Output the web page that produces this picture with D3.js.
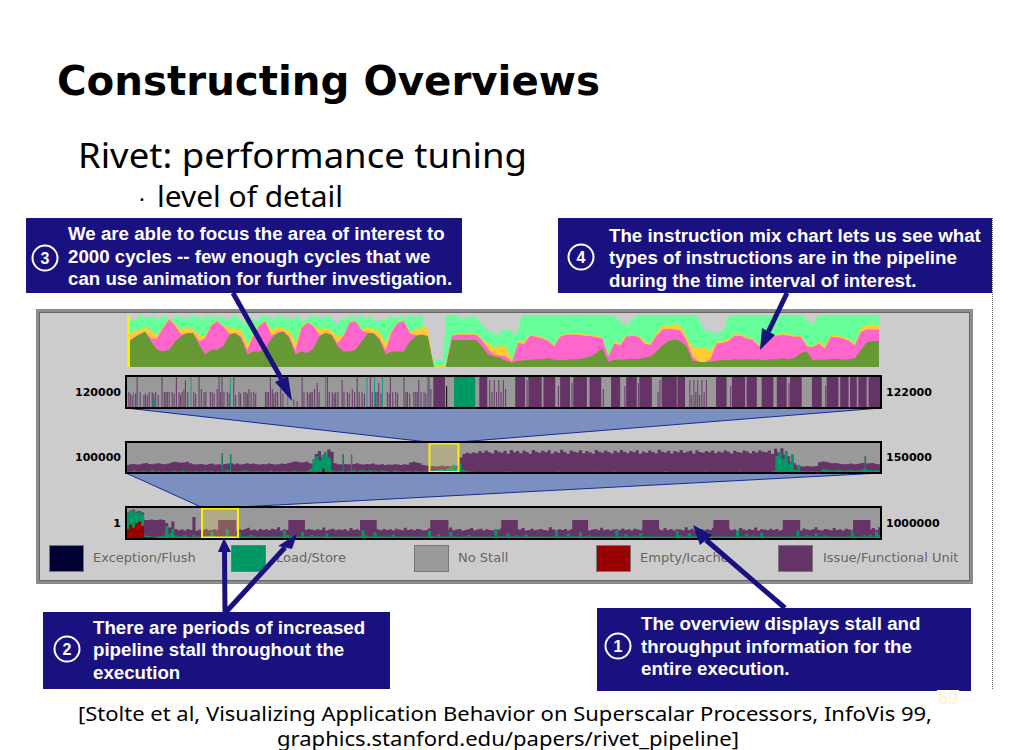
<!DOCTYPE html>
<html><head><meta charset="utf-8"><style>html,body{margin:0;background:#fff}svg{display:block}</style>
<script src="https://cdn.jsdelivr.net/npm/d3@7/dist/d3.min.js"></script></head><body><div id="c"></div>
<script>
// Instruction mix: cumulative band tops, percent
const mixOlive=[46,55,62,68,49,33,30,33,49,59,65,65,43,24,33,33,40,62,65,55,24,30,30,36,55,65,68,55,24,30,27,36,59,65,62,40,30,30,33,49,65,65,52,24,30,30,30,49,59,62,59,0,0,0,52,52,52,52,52,40,24,20,18,12,8,12,13,14,15,15,17,14,13,14,15,15,17,20,27,36,10,14,14,15,16,15,18,20,30,42,50,53,50,40,12,10,9,10,12,14,13,15,14,15,14,15,13,15,15,17,15,18,27,30,13,14,14,15,16,14,15,17,33,48,50,50];
const mixPink=[48,56,63,68,55,55,75,92,80,62,66,66,50,55,80,88,78,64,66,58,32,60,80,88,60,67,69,58,32,75,85,78,61,66,63,45,60,85,88,70,66,66,55,32,68,85,88,65,61,63,60,0,0,0,60,62,62,62,62,52,34,24,22,20,10,46,44,60,58,55,50,40,58,62,62,62,60,60,57,55,20,45,42,58,60,58,45,42,60,72,73,72,70,52,20,10,9,15,45,46,50,60,60,55,52,40,50,58,60,62,60,58,58,40,38,45,35,58,57,55,50,42,68,72,72,72];
const mixYellow=[60,68,72,76,70,60,77,94,82,72,75,73,62,58,82,90,80,75,74,70,44,62,82,90,72,76,74,70,46,77,87,80,72,75,70,58,62,87,90,72,76,73,68,46,70,87,90,68,72,76,74,1,2,2,62,63,64,64,64,54,45,38,40,40,12,50,50,62,60,58,52,43,60,64,64,64,63,62,60,57,22,48,46,60,62,60,50,44,65,80,80,82,80,58,38,38,38,30,50,50,55,63,63,57,55,43,55,61,62,64,63,61,60,43,40,50,40,62,60,58,53,45,76,80,82,80];
const mixMint=[82,90,93,88,97,99,94,96,95,98,94,92,96,99,94,91,93,97,98,95,91,94,96,99,97,92,94,98,95,99,92,96,98,94,90,93,97,99,94,88,84,91,95,92,88,93,97,99,96,94,92,97,99,95,93,96,90,94,98,95,86,91,96,99,94,98,95,92,97,99,92,86,84,90,95,91,96,98,92,96,99,94,91,97,94,86,88,92,90,95,98,93,96,94,99,91,97,99,95,98,100,97,10,13,14,15,14,13,12,98,99,100,99,98,94,93,95,96,97,96,92,84,78,72,68,66,63,62,70,71,70,71,64,60,80,99,100,99,99,100,100,100,100,100,100,100,100,100,100,100,100,100,100,100,100,100,100,99,100,99,100,100,100,100,100,100,98,95,92,85,84,80,86,92,100,100,100,100,100,100,100,100,100,100,100,100,100,100,100,100,100,100,100,100,99,96,86,76,68,66,68,66,64,68,72,90,100,100,100,100,100,100,100,100,100,100,100,100,100,100,100,100,100,100,100,100,100,100,100,100,100,98,95,88,82,86,98,100,100,100,100,100,100,100,100,100,100,100,100,100,100,100,100,100,100,100,100,100];

// Zoomed strip 120000-122000: offsets in cycles
const bars1=[[6,.5],[15,.4],[28,1],[46,.4],[55,.4],[68,.5],[77,.5],[94,1],[108,.5],[121,.5],[132,1],[139,.5],[147,.5],[156,.9],[178,.5],[192,1],[205,.5],[227,.5],[245,1],[253,1],[267,.5],[284,1],[298,.5],[311,.5],[324,.6],[337,.5],[368,.5],[381,1],[395,.5],[408,.6],[443,.25],[452,.2],[465,1],[479,.5],[492,.5],[505,.8],[532,1],[545,.5],[554,.5],[571,.9],[585,.5],[598,.6],[611,1],[624,.5],[646,1],[660,.5],[668,.8],[691,.5],[699,1],[713,.5],[735,1],[744,.5],[761,.5],[774,.9],[788,.5],[801,1],[962,.9],[968,.5],[974,.9],[980,.5],[986,.9],[992,.5],[998,.9],[1004,.6],[1408,.5],[1413,.9],[1492,.9],[1497,.4],[1503,.9],[1508,.5],[1513,.9],[1518,.4],[1524,.9],[1530,.5],[1536,.9],[1061,.9],[1144,.7],[1180,.8],[1263,.6],[1320,.7],[1356,.8],[1600,.7],[1755,.8],[1852,.7]];
const moreBars1=[[10,.45],[24,.45],[36,.5],[50,.45],[60,.5],[72,.45],[84,.4],[100,.5],[104,.5],[113,.5],[126,.45],[143,.4],[152,.6],[162,.5],[183,.45],[198,.6],[210,.5],[222,.5],[232,.45],[240,.6],[249,.5],[258,.5],[272,.45],[289,.4],[302,.45],[316,.5],[320,.45],[330,.5],[342,.45],[372,.5],[376,.5],[386,.6],[390,.45],[400,.5],[414,.45],[470,.5],[484,.45],[488,.5],[498,.6],[510,.5],[537,.5],[550,.45],[560,.5],[576,.5],[590,.45],[604,.5],[616,.5],[630,.45],[651,.5],[664,.5],[674,.45],[696,.45],[705,.5],[718,.45],[740,.5],[750,.45],[766,.5],[770,.5],[780,.5],[793,.45],[806,.6]];
const teal1=[[19,.5],[74,.3],[171,1],[275,1],[427,1],[527,1],[637,1],[657,1],[678,1],[798,1]];
const blocks1=[[814,845],[936,957],[1031,1057],[1066,1101],[1106,1137],[1150,1176],[1185,1221],[1228,1259],[1285,1309],[1325,1353],[1360,1393],[1419,1459],[1461,1481],[1563,1591],[1605,1640],[1644,1671],[1684,1715],[1724,1750],[1759,1790],[1817,1843],[1856,1887],[1892,1914],[1918,1936],[1940,1962],[1967,1998]];
const tealBlocks1=[[869,925]];
const blackMark1=[848,.7];

// Middle strip 100000-150000: height fractions per column
const purple2=[.24,.27,.28,.26,.27,.29,.31,.28,.27,.29,.30,.28,.27,.29,.33,.35,.34,.32,.33,.35,.30,.27,.26,.28,.27,.25,.28,.29,.26,.27,.25,.28,.29,.30,.27,.29,.26,.28,.30,.28,.29,.27,.26,.28,.27,.29,.28,.26,.27,.29,.28,.30,.33,.36,.35,.33,.34,.36,.30,.28,.62,.72,.50,.68,.78,.70,.30,.27,.26,.28,.27,.26,.28,.30,.27,.26,.28,.27,.29,.26,.25,.27,.24,.26,.25,.27,.26,.24,.27,.25,.33,.35,.33,.30,.24,.22,.20,.21,.19,.20,.22,.20,.21,.20,.19,.22,.50,.62,.66,.64,.67,.65,.72,.66,.74,.68,.64,.75,.70,.66,.73,.63,.76,.68,.72,.65,.74,.69,.63,.76,.70,.66,.73,.68,.75,.64,.71,.66,.77,.69,.63,.74,.70,.67,.75,.65,.72,.68,.63,.76,.70,.66,.74,.69,.64,.73,.67,.76,.70,.65,.72,.68,.75,.63,.71,.66,.74,.69,.65,.77,.70,.67,.73,.64,.72,.68,.76,.66,.70,.73,.64,.75,.69,.66,.72,.68,.74,.65,.71,.67,.75,.70,.64,.73,.69,.66,.74,.71,.65,.72,.67,.75,.70,.68,.74,.62,.80,.68,.82,.60,.55,.35,.30,.22,.20,.19,.21,.20,.19,.21,.34,.36,.35,.33,.30,.31,.29,.28,.27,.28,.29,.27,.28,.30,.31,.29,.30,.31,.28,.27];
const teal2=[.03,.02,.06,.03,.02,.04,.03,.02,.08,.03,.04,.02,.03,.02,.03,.05,.02,.03,.06,.02,.03,.02,.04,.02,.03,.05,.02,.04,.02,.03,.02,.03,.08,.05,.03,.02,.03,.04,.06,.03,.02,.03,.04,.02,.03,.02,.05,.02,.03,.02,.04,.03,.02,.03,.05,.02,.03,.02,.04,.12,.45,.55,.40,.60,.70,.50,.06,.03,.04,.05,.02,.03,.06,.08,.03,.05,.06,.03,.07,.04,.05,.03,.06,.04,.03,.02,.05,.04,.03,.02,.04,.03,.02,.05,.03,.02,.04,.03,.02,.06,.08,.10,.06,.12,.18,.25,.10,.30,.08,.04,.03,.02,0,0,0,0,.02,0,0,0,0,0,.02,.03,0,0,0,0,0,0,0,0,0,0,.02,0,0,0,0,.03,0,0,0,0,0,0,0,0,0,0,0,.02,0,0,0,0,0,.03,0,0,0,0,0,0,0,.02,0,0,0,0,0,0,0,.03,.02,0,0,0,0,0,0,0,0,0,0,0,.02,0,0,0,0,0,0,0,0,0,0,.02,0,0,0,0,0,0,0,0,0,0,.04,.55,.70,.45,.72,.30,.60,.08,.25,.03,.03,.02,.03,.02,.02,.03,.10,.08,.06,.05,.06,.08,.05,.04,.05,.06,.04,.05,.06,.12,.08,.06,.05,.06,.05];
const red2=[[113000,.12]];
const spikes2=[106335,106885,114345,114895,148920];
const spikeHeights2=[.65,.62,.62,.6,.55];

// Overview strip 1-1000000
const purple3=[.85,.92,.95,.88,.90,.85,.60,.60,.62,.60,.60,.62,.60,.50,.35,.55,.30,.26,.28,.25,.30,.27,.70,.24,.28,.26,.30,.26,.27,.29,.25,.33,.28,.26,.27,.31,.25,.29,.27,.30,.34,.26,.28,.25,.30,.27,.29,.26,.31,.28,.36,.25,.29,.27,.30,.26,.28,.33,.25,.27,.30,.28,.26,.29,.27,.35,.25,.28,.31,.26,.29,.27,.30,.25,.33,.27,.29,.26,.28,.30,.27,.25,.36,.28,.26,.30,.27,.29,.25,.31,.28,.26,.34,.27,.29,.26,.30,.28,.25,.27,.32,.26,.29,.28,.25,.30,.27,.35,.26,.28,.30,.25,.27,.29,.33,.26,.28,.31,.25,.29,.27,.26,.30,.28,.34,.25,.27,.30,.26,.29,.28,.33,.25,.27,.31,.26,.28,.30,.27,.25,.36,.28,.26,.29,.27,.30,.25,.28,.33,.26,.29,.27,.31,.25,.28,.30,.26,.34,.27,.29,.25,.28,.30,.26,.32,.27,.29,.25,.31,.28,.26,.35,.27,.30,.25,.28,.29,.26,.33,.27,.30,.25,.29,.28,.26,.36,.27,.31,.25,.28,.30,.26,.29,.27,.34,.25,.28,.30,.26,.31,.27,.29,.25,.33,.28,.26,.30,.27,.35,.25,.29,.28,.26,.31,.27,.30,.25,.28,.34,.26,.29,.27,.30,.25,.32,.28,.26,.29,.36,.27,.25,.30,.28,.26,.33,.27,.29,.25,.31,.28,.26,.30,.27,.35,.29,.26,.28,.33,.27,.36];
const teal3=[.80,.90,.92,.85,.85,.80,.08,.05,.06,.04,.05,.06,.08,.40,.15,.30,.08,.05,.06,.10,.05,.04,.10,.06,.05,.04,.05,.05,.20,.06,.05,.06,.05,.30,.06,.05,.04,.18,.05,.06,.05,.10,.05,.04,.05,.06,.05,.05,.05,.05,.05,.05,.28,.10,.05,.06,.05,.05,.20,.05,.05,.10,.05,.06,.05,.05,.15,.05,.05,.06,.05,.05,.05,.05,.05,.05,.05,.05,.26,.08,.05,.05,.18,.06,.05,.05,.06,.05,.12,.05,.05,.06,.05,.05,.05,.05,.05,.05,.05,.05,.24,.07,.05,.12,.05,.06,.05,.20,.05,.05,.06,.05,.05,.10,.05,.05,.05,.05,.05,.05,.05,.05,.30,.05,.06,.05,.16,.05,.05,.08,.05,.05,.12,.06,.05,.05,.05,.05,.05,.05,.05,.05,.25,.06,.05,.05,.14,.05,.06,.05,.18,.05,.05,.08,.05,.05,.05,.05,.05,.05,.05,.05,.28,.06,.05,.12,.05,.05,.08,.05,.16,.05,.05,.06,.05,.05,.05,.05,.05,.05,.05,.05,.24,.08,.05,.05,.15,.05,.06,.05,.10,.05,.20,.05,.05,.05,.05,.05,.05,.05,.05,.05,.26,.06,.05,.14,.05,.08,.05,.05,.18,.05,.05,.06,.05,.05,.05,.05,.05,.05,.05,.05,.25,.06,.05,.10,.05,.05,.16,.05,.05,.08,.05,.05,.05,.05,.05,.05,.05,.05,.22,.06,.05,.05,.10,.05,.12,.05,.22,.10];
const red3=[.30,.45,.35,.50,.55,.40,.03,.02,.03,.02];
const blocks3=[[122000,146000],[215000,237000],[310000,332000],[403000,427000],[497000,519000],[591000,612000],[684000,706000],[778000,799000],[870000,893000],[963000,986000]];
const blockHeight3=.6;

const stripLabelsLeft=["120000","100000","1"];
const stripLabelsRight=["122000","150000","1000000"];
const legendNames=["Exception/Flush","Load/Store","No Stall","Empty/Icache","Issue/Functional Unit"];
const legendColors=["#000033","#009966","#999999","#990000","#663366"];

const callouts=[
 {n:"3",lines:["We are able to focus the area of interest to","2000 cycles -- few enough cycles that we","can use animation for further investigation."]},
 {n:"4",lines:["The instruction mix chart lets us see what","types of instructions are in the pipeline","during the time interval of interest."]},
 {n:"2",lines:["There are periods of increased","pipeline stall throughout the","execution"]},
 {n:"1",lines:["The overview displays stall and","throughput information for the","entire execution."]}
];

const NAVY="#1a1180",PURPLE="#663366",TEAL="#009966",GRAY="#999999",FONT2="'Liberation Sans',Arial,sans-serif",FONT1="'DejaVu Sans',sans-serif",FONT3="'Noto Sans',sans-serif";
const svg=d3.select("#c").append("svg").attr("width",1010).attr("height",750);

function txt(t,x,y,size,o={}){return svg.append("text").attr("x",x).attr("y",y).attr("font-family",o.font||FONT1).attr("font-size",size).attr("font-weight",o.weight||"normal").attr("fill",o.fill||"#000").attr("text-anchor",o.anchor||"start").attr("textLength",o.len||null).attr("lengthAdjust","spacingAndGlyphs").text(t);}
txt("Constructing Overviews",57,95,41,{weight:"bold",len:543});
txt("Rivet: performance tuning",78,168,35,{len:449,font:FONT3});
txt("·",139,207,22,{font:FONT3});
txt("level of detail",157,207,29,{len:186,font:FONT3});
txt("[Stolte et al, Visualizing Application Behavior on Superscalar Processors, InfoVis 99,",78,721,20,{len:854,font:FONT3});
txt("graphics.stanford.edu/papers/rivet_pipeline]",277,745.5,20,{len:462,font:FONT3});

svg.append("line").attr("x1",992.5).attr("x2",992.5).attr("y1",218).attr("y2",690).attr("stroke","#666").attr("stroke-dasharray","1 1");

svg.append("rect").attr("x",37.5).attr("y",310.5).attr("width",934).attr("height",272).attr("fill","#cccccc").attr("stroke","#8c8c8c").attr("stroke-width",3);
svg.append("rect").attr("x",39.5).attr("y",312.5).attr("width",930).attr("height",268).attr("fill","none").attr("stroke","#666").attr("stroke-width",1);

const mixX=d3.scaleLinear([0,mixOlive.length-1],[127,879]);
const mixXFine=d3.scaleLinear([0,mixMint.length-1],[127,879]);
const mixY=d3.scaleLinear([0,100],[367,315]);
svg.append("path").datum(mixMint).attr("fill","#66ff99").attr("d",d3.area().x((d,i)=>mixXFine(i)).y0(mixY(0)).y1(d=>mixY(d)));
[[mixYellow,"#ffcc33"],[mixPink,"#ff66cc"],[mixOlive,"#669933"]].forEach(([vals,c])=>{
  svg.append("path").datum(vals).attr("fill",c).attr("d",d3.area().x((d,i)=>mixX(i)).y0(mixY(0)).y1(d=>mixY(d)));
});
svg.append("rect").attr("x",127).attr("y",mixY(100)).attr("width",3).attr("height",mixY(0)-mixY(100)).attr("fill","#ffee00");

const L=126,R=881;
function trap(y0,y1,a,b){
  svg.append("path").attr("d",d3.line()([[L,y0],[R,y0],[b,y1],[a,y1]])+"Z").attr("fill","#7b90c0").attr("stroke","none");
  svg.append("path").attr("d",d3.line()([[L,y0],[a,y1],[b,y1],[R,y0]])).attr("fill","none").attr("stroke","#1a2a90").attr("stroke-width",1);
}
trap(408,442,428,459);
trap(473,507,201,239);

function strip(y0,y1){
  const g=svg.append("g");
  g.append("rect").attr("x",L).attr("y",y0).attr("width",R-L).attr("height",y1-y0).attr("fill",GRAY);
  return {g,y:d3.scaleLinear([0,1],[y1-1,y0+1])};
}
function border(y0,y1){svg.append("rect").attr("x",L).attr("y",y0).attr("width",R-L).attr("height",y1-y0).attr("fill","none").attr("stroke","#000").attr("stroke-width",2);}
function profile(s,vals,color,n){
  const x=d3.scaleLinear([0,n||vals.length],[L,R]);
  s.g.append("path").datum([...vals,vals[vals.length-1]]).attr("fill",color)
    .attr("d",d3.area().curve(d3.curveStepAfter).x((d,i)=>x(i)).y0(s.y(0)).y1(d=>s.y(d)));
}
function rects1(s,x,data,color,op){s.g.selectAll(null).data(data).enter().append("rect").attr("x",d=>x(d[0])).attr("width",d=>Math.max(1,x(d[1])-x(d[0]))).attr("y",d=>s.y(d[2]==null?1:d[2])).attr("height",d=>s.y(0)-s.y(d[2]==null?1:d[2])).attr("fill",color).attr("opacity",op||1);}

const s1=strip(376,408), x1=d3.scaleLinear([0,2000],[L,R]);
rects1(s1,x1,bars1.concat(moreBars1).map(d=>[d[0],d[0]+3,d[1]]),PURPLE,.85);
rects1(s1,x1,teal1.map(d=>[d[0],d[0]+2,d[1]]),"#009988",.85);
rects1(s1,x1,blocks1,PURPLE);
rects1(s1,x1,tealBlocks1,TEAL);
rects1(s1,x1,[[blackMark1[0],blackMark1[0]+1,blackMark1[1]]],"#000");
border(376,408);

const s2=strip(442,473), x2=d3.scaleLinear([100000,150000],[L,R]);
profile(s2,purple2,PURPLE);
rects1(s2,x2,spikes2.map((d,i)=>[d,d+90,spikeHeights2[i]]),PURPLE);
profile(s2,teal2,TEAL);
rects1(s2,x2,spikes2.map((d,i)=>[d,d+70,spikeHeights2[i]]),TEAL);
rects1(s2,x2,red2.map(d=>[d[0],d[0]+150,d[1]]),"#990000");
svg.append("rect").attr("x",429.5).attr("y",443.5).attr("width",29).attr("height",28.5).attr("fill","#ffee44").attr("fill-opacity",.22).attr("stroke","#ffee00").attr("stroke-width",2);
border(442,473);

const s3=strip(507,539), x3=d3.scaleLinear([1,1000000],[L,R]);
profile(s3,purple3,PURPLE);
rects1(s3,x3,blocks3.map(d=>[d[0],d[1],blockHeight3]),PURPLE);
profile(s3,teal3,TEAL);
profile(s3,red3,"#990000",purple3.length);
svg.append("rect").attr("x",202).attr("y",508.5).attr("width",36).attr("height",29).attr("fill","#ffee44").attr("fill-opacity",.22).attr("stroke","#ffee00").attr("stroke-width",2);
border(507,539);

[392,457,523].forEach((y,i)=>{
  txt(stripLabelsLeft[i],121,y+4,11,{weight:"bold",anchor:"end"});
  txt(stripLabelsRight[i],886,y+4,11,{weight:"bold"});
});

const legendX=[49,231,414,596,778], legendTextX=[93,276,458,640,823];
legendNames.forEach((n,i)=>{
  svg.append("rect").attr("x",legendX[i]+.5).attr("y",545.5).attr("width",34).attr("height",26).attr("fill",legendColors[i]).attr("stroke","#777");
  txt(n,legendTextX[i],562,13,{fill:"#666"});
});

const boxes=[[26,218,436,75,68,[240,263,285],45,258],[558,218,434,75,609,[242,264,287],581,257],[43,612,347,77,93,[634,656,679],67,649],[597,608,374,83,641,[630,653,675],618,646]];
callouts.forEach((c,i)=>{
  const [x,y,w,h,tx,ys,cx,cy]=boxes[i];
  svg.append("rect").attr("x",x).attr("y",y).attr("width",w).attr("height",h).attr("fill",NAVY);
  c.lines.forEach((t,j)=>txt(t,tx,ys[j],18.7,{font:FONT2,weight:"bold",fill:"#fff"}));
  svg.append("circle").attr("cx",cx).attr("cy",cy).attr("r",12.5).attr("fill","none").attr("stroke","#fff").attr("stroke-width",2);
  txt(c.n,cx,cy+6,16,{font:FONT2,weight:"bold",fill:"#fff",anchor:"middle"});
});

function arrow(from,tip,b1,b2){
  svg.append("line").attr("x1",from[0]).attr("y1",from[1]).attr("x2",(b1[0]+b2[0])/2).attr("y2",(b1[1]+b2[1])/2).attr("stroke",NAVY).attr("stroke-width",5);
  svg.append("path").attr("d",d3.line()([tip,b1,b2])+"Z").attr("fill",NAVY);
}
arrow([233,293],[292,401],[275,382],[288,376]);
arrow([787,293],[760,350],[762,328],[775,335]);
arrow([225,612],[224,538],[218,552],[231,552]);
arrow([226,612],[297,534],[278,546],[292,549]);
arrow([785,608],[693,525],[712,535],[700,545]);

svg.append("rect").attr("x",937).attr("y",690).attr("width",22).attr("height",16).attr("fill","#fff");
txt("69",938,704,18,{fill:"#fff3c4",font:FONT2});
</script></body></html>
